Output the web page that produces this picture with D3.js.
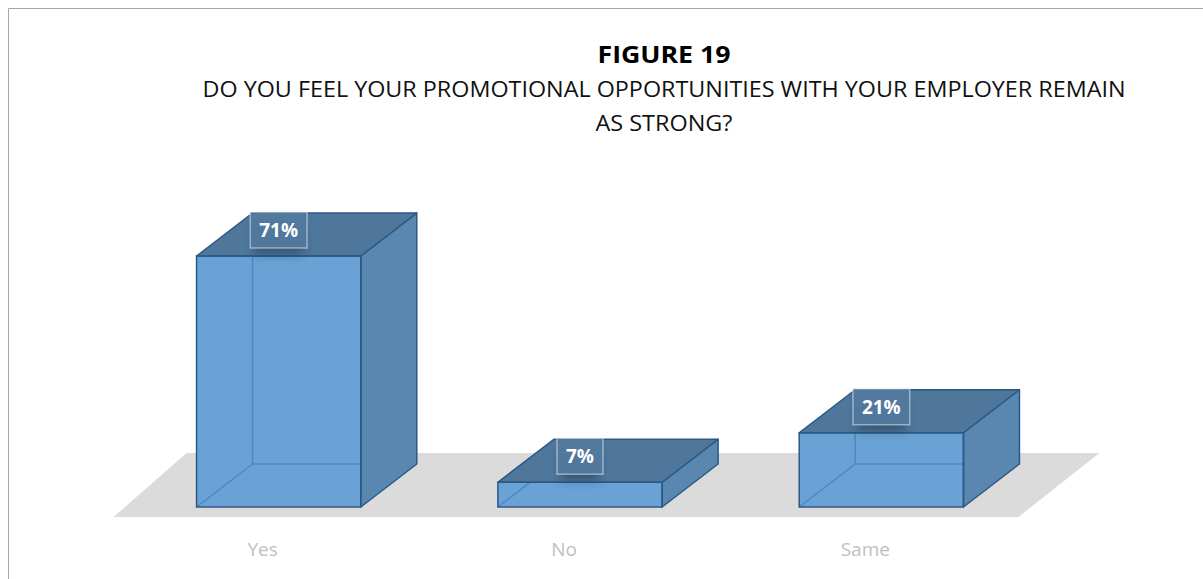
<!DOCTYPE html>
<html>
<head>
<meta charset="utf-8">
<script src="https://cdn.jsdelivr.net/npm/d3@7"></script>
<style>
  html, body { margin: 0; padding: 0; background: #ffffff; }
  svg { display: block; font-family: "Open Sans", Lato, sans-serif; }
</style>
</head>
<body>
<svg id="chart" width="1203" height="579"></svg>
<script>
// Survey answers and their shares (percent)
const categories = ["Yes", "No", "Same"];
const values = [71, 7, 21];
const valueLabels = ["71%", "7%", "21%"];
const titleText = "FIGURE 19";
const subtitleLines = [
  "DO YOU FEEL YOUR PROMOTIONAL OPPORTUNITIES WITH YOUR EMPLOYER REMAIN",
  "AS STRONG?"
];

const W = 1203, H = 579;
const svg = d3.select("#chart");

// Oblique projection of the depth axis
const depthX = 56, depthY = -43;
const baseY = 507;

const x = d3.scalePoint().domain(categories).range([128, 1032]).padding(0.5);
const y = d3.scaleLinear().domain([0, 100]).range([baseY, baseY - 353.5]);
const barW = x.step() * 0.545;

const colors = {
  front: "#6aa2d5",
  side: "#5a87af",
  top: "#4f769b",
  edge: "#2b5985",
  hidden: "#4a86c0",
  floor: "#dcdbdc"
};

const defs = svg.append("defs");
defs.append("filter").attr("id", "soft").attr("x", "-50%").attr("y", "-50%")
  .attr("width", "200%").attr("height", "200%")
  .append("feGaussianBlur").attr("stdDeviation", 5);

// Outer frame
svg.append("path")
  .attr("d", `M8.5,${H} L8.5,8.5 L${W},8.5`)
  .attr("fill", "none").attr("stroke", "#a6a6a6").attr("stroke-width", 1);

// Titles
svg.append("text").attr("x", 664).attr("y", 63).attr("text-anchor", "middle")
  .attr("font-weight", "bold").attr("font-size", 24).attr("fill", "#000")
  .attr("textLength", 133).attr("lengthAdjust", "spacingAndGlyphs")
  .text(titleText);
const subWidths = [923, 137];
svg.selectAll("text.sub").data(subtitleLines).join("text")
  .attr("class", "sub")
  .attr("x", 664).attr("y", (d, i) => 97 + i * 34)
  .attr("text-anchor", "middle").attr("font-size", 21).attr("fill", "#111")
  .attr("textLength", (d, i) => subWidths[i]).attr("lengthAdjust", "spacingAndGlyphs")
  .text(d => d);

// Floor plane (slight perspective: right side leans further)
const floorFrontY = baseY + 10, floorBackY = baseY - 54;
const floorLeft = x(categories[0]) - barW / 2 - 83;
const floorRight = x(categories[categories.length - 1]) + barW / 2 + 55;
svg.append("path")
  .attr("d", `M${floorLeft},${floorFrontY} L${floorRight},${floorFrontY} L${floorRight + 81},${floorBackY} L${floorLeft + 73},${floorBackY} Z`)
  .attr("fill", colors.floor);

const data = categories.map((c, i) => ({ cat: c, value: values[i], label: valueLabels[i] }));

const bars = svg.selectAll("g.bar").data(data).join("g").attr("class", "bar");

bars.each(function (d) {
  const g = d3.select(this);
  const x0 = x(d.cat) - barW / 2, x1 = x0 + barW;
  const yb = y(0), yt = y(d.value);
  const pts = a => a.map(p => p.join(",")).join(" ");

  // front face
  g.append("rect")
    .attr("x", x0).attr("y", yt).attr("width", barW).attr("height", yb - yt)
    .attr("fill", colors.front);
  // hidden edges seen through the translucent box
  g.append("path")
    .attr("d", `M${x0},${yb} L${x0 + depthX},${yb + depthY} L${x1 + depthX},${yb + depthY} M${x0 + depthX},${yb + depthY} L${x0 + depthX},${yt + depthY}`)
    .attr("fill", "none").attr("stroke", colors.hidden).attr("stroke-width", 1.5).attr("opacity", 0.9);
  // right side face
  g.append("polygon")
    .attr("points", pts([[x1, yb], [x1 + depthX, yb + depthY], [x1 + depthX, yt + depthY], [x1, yt]]))
    .attr("fill", colors.side).attr("stroke", colors.edge).attr("stroke-width", 1.5).attr("stroke-linejoin", "round");
  // top face
  g.append("polygon")
    .attr("points", pts([[x0, yt], [x0 + depthX, yt + depthY], [x1 + depthX, yt + depthY], [x1, yt]]))
    .attr("fill", colors.top).attr("stroke", colors.edge).attr("stroke-width", 1.5).attr("stroke-linejoin", "round");
  // front outline
  g.append("rect")
    .attr("x", x0).attr("y", yt).attr("width", barW).attr("height", yb - yt)
    .attr("fill", "none").attr("stroke", colors.edge).attr("stroke-width", 1.5);

  // value label box
  const cx = x(d.cat);
  const cy = yt + depthY + 17;
  const t = g.append("text")
    .attr("x", cx).attr("y", cy + 7)
    .attr("text-anchor", "middle").attr("font-weight", "bold").attr("font-size", 19)
    .attr("fill", "#ffffff").text(d.label);
  const tw = t.node().getComputedTextLength();
  const bw = tw + 18, bh = 36;
  g.insert("rect", "text")
    .attr("x", cx - bw / 2 + 4).attr("y", cy - bh / 2 + 12)
    .attr("width", bw - 8).attr("height", bh - 6)
    .attr("fill", "#1d3550").attr("opacity", 0.5).attr("filter", "url(#soft)");
  g.insert("rect", "text")
    .attr("x", cx - bw / 2).attr("y", cy - bh / 2)
    .attr("width", bw).attr("height", bh)
    .attr("fill", "#52799e").attr("fill-opacity", 0.95)
    .attr("stroke", "#ffffff").attr("stroke-opacity", 0.45).attr("stroke-width", 1.5);
});

// Category axis labels
svg.selectAll("text.cat").data(categories).join("text")
  .attr("class", "cat")
  .attr("x", d => x(d) - 16).attr("y", 556)
  .attr("text-anchor", "middle").attr("font-size", 19).attr("fill", "#bfbfbf")
  .text(d => d);
</script>
</body>
</html>
